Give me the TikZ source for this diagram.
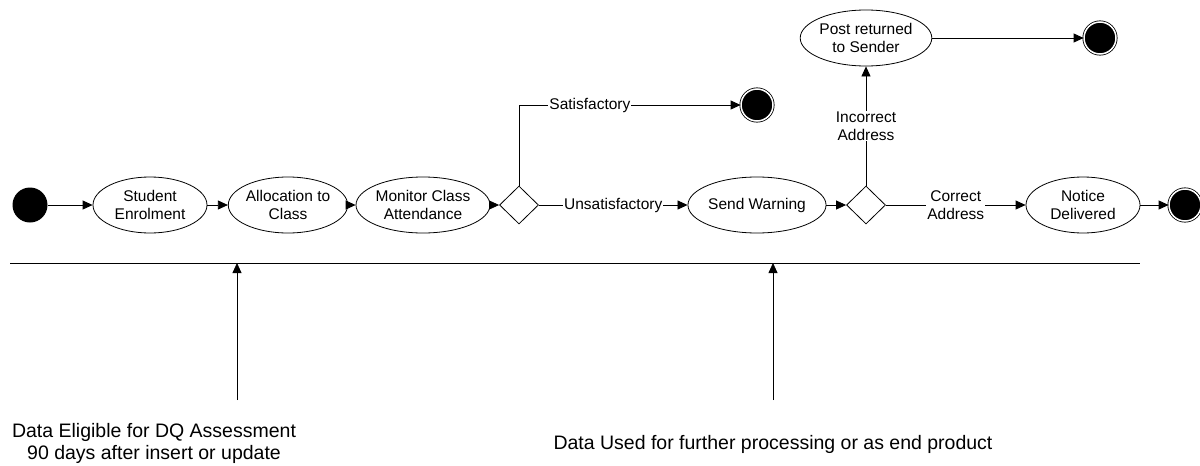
\documentclass[tikz,border=0pt]{standalone}
\usepackage{fontspec}
\setmainfont{Liberation Sans}
\usetikzlibrary{shapes.geometric,arrows.meta}

\begin{document}
\begin{tikzpicture}[x=1pt, y=-1pt, font=\fontsize{15.5}{18}\selectfont,
    state/.style={draw, ellipse, line width=0.8pt, minimum width=114pt, minimum height=56pt, inner sep=0pt, align=center},
    choice/.style={draw, diamond, line width=0.8pt, minimum width=39pt, minimum height=38pt, inner sep=0pt},
    start/.style={circle, fill=black, minimum size=35pt, inner sep=0pt},
    stop/.style={circle, draw, fill=black, line width=0.8pt, double=white, double distance=1.5pt, minimum size=32pt, inner sep=0pt},
    flow/.style={-{Triangle[length=10pt,width=9pt]}, line width=0.8pt},
    lbl/.style={fill=white, inner sep=1pt, align=center},
    note/.style={align=center, font=\fontsize{19.5}{22}\selectfont}]
        \useasboundingbox (0,0) rectangle (1200,466);
        % states along the main flow
        \node[start] (init) at (30,205) {};
        \node[state] (enrol) at (150,205) {Student\\Enrolment};
        \node[state] (alloc) at (288,205) {Allocation to\\Class};
        \node[state] (monitor) at (423,205) {Monitor Class\\Attendance};
        \node[choice] (check) at (519,205) {};
        \node[stop] (okend) at (757,105) {};
        \node[state] (warn) at (757,205) {Send Warning};
        \node[choice] (addr) at (866,205) {};
        \node[state] (returned) at (866,38) {Post returned\\to Sender};
        \node[stop] (retend) at (1100,38) {};
        \node[state] (notice) at (1083,205) {Notice\\Delivered};
        \node[stop] (done) at (1185,205) {};
        % transitions
        \draw[flow] (init) -- (enrol);
        \draw[flow] (enrol) -- (alloc);
        \draw[flow] (alloc) -- (monitor);
        \draw[flow] (monitor) -- (check);
        \draw[flow] (check.north) |- node[lbl, pos=0.66] {Satisfactory} (okend);
        \draw[flow] (check) -- node[lbl] {Unsatisfactory} (warn);
        \draw[flow] (warn) -- (addr);
        \draw[flow] (addr) -- node[lbl] {Incorrect\\Address} (returned);
        \draw[flow] (returned) -- (retend);
        \draw[flow] (addr) -- node[lbl] {Correct\\Address} (notice);
        \draw[flow] (notice) -- (done);
        % time line
        \coordinate (lineL) at (10,263);
        \coordinate (lineR) at (1140,263);
        \draw[line width=0.8pt] (lineL) -- (lineR);
        \coordinate (tick1) at (237,263);
        \coordinate (foot1) at (237,400);
        \coordinate (tick2) at (773,263);
        \coordinate (foot2) at (773,400);
        \draw[flow] (foot1) -- (tick1);
        \draw[flow] (foot2) -- (tick2);
        \node[note] (eligible) at (154,443) {Data Eligible for DQ Assessment\\90 days after insert or update};
        \node[note] (used) at (773,444) {Data Used for further processing or as end product};
    \end{tikzpicture}
\end{document}
